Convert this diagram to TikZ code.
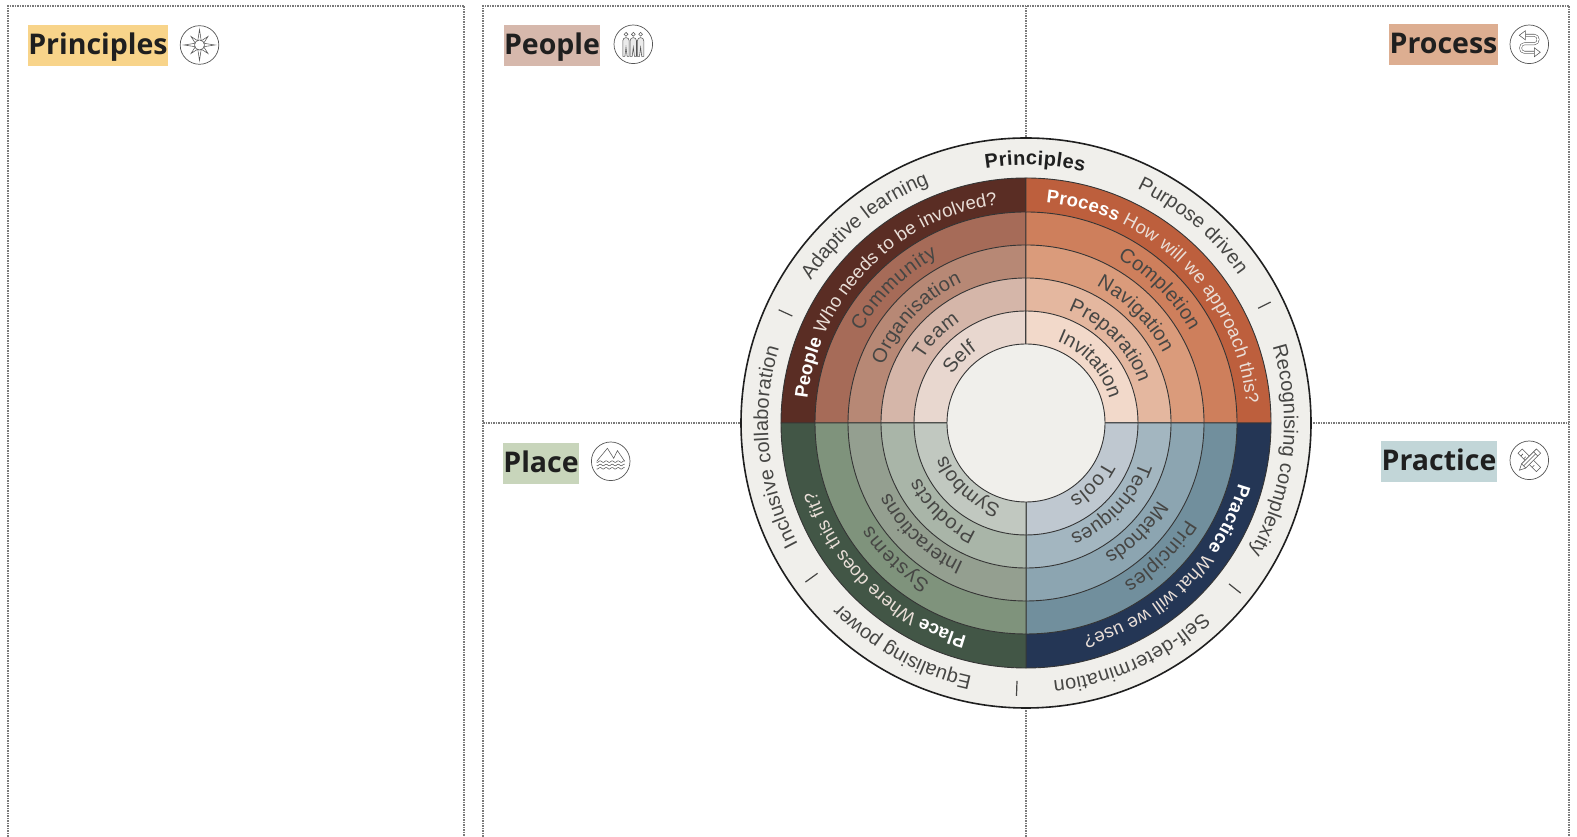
\documentclass[tikz,border=0pt]{standalone}
\usepackage{fontspec}
\usetikzlibrary{decorations.text}
\newfontfamily\headfam{Open Sans}
\newfontfamily\wheelfam{Liberation Sans}
\definecolor{wheelbg}{HTML}{F0EFEB}
\definecolor{wheelink}{HTML}{1F1F1F}
\definecolor{labelink}{HTML}{464644}
\definecolor{paleink}{HTML}{EADFD8}
\definecolor{iconink}{HTML}{555555}
\definecolor{frameink}{HTML}{7A7A7A}
% wheel fonts
\newcommand{\ringfont}{\wheelfam\fontsize{20}{24}\selectfont\color{labelink}}
\newcommand{\titlefont}{\wheelfam\bfseries\fontsize{20}{24}\selectfont\color{wheelink}}
\newcommand{\darkfont}{\wheelfam\fontsize{18.5}{22}\selectfont\color{paleink}}
\newcommand{\darkbold}{\wheelfam\bfseries\fontsize{18.5}{22}\selectfont\color{white}}
\tikzset{
	frameline/.style={frameink, line width=1.3pt, dash pattern=on 1.5pt off 1pt},
	ringcut/.style={draw=wheelink!90, line width=0.9pt},
	tick/.style={labelink, line width=1.2pt},
	ringtext/.style={decorate, decoration={text along path, text align={fit to path}, text={#1}}},
	headbox/.style={inner sep=0pt, text depth=11.5pt, text height=29.5pt, align=center, text=wheelink, font=\headfam\bfseries\fontsize{28.5}{34}\selectfont},
	iconring/.style={circle, draw=iconink, line width=0.7pt, minimum size=38.6pt, inner sep=0pt},
	iconline/.style={draw=iconink, line width=0.55pt}
}
\begin{document}
\begin{tikzpicture}[x=1pt, y=1pt]
	\useasboundingbox (0,0) rectangle (1577,837);
	% panels
	\draw [frameline] (8,0) -- (8,831) -- (464,831) -- (464,0);
	\draw [frameline] (483,0) -- (483,831) -- (1569,831) -- (1569,0);
	\draw [frameline] (1026,0) -- (1026,831);
	\draw [frameline] (483,414) -- (1569,414);
	% headings
	\node [headbox, fill={rgb,255:red,248;green,212;blue,138}, text width=140pt] (principleshead) at (98,791.5) {Principles};
	\node [headbox, fill={rgb,255:red,214;green,184;blue,172}, text width=96pt] (peoplehead) at (552,791.5) {People};
	\node [headbox, fill={rgb,255:red,221;green,174;blue,145}, text width=109pt] (processhead) at (1443.5,792.5) {Process};
	\node [headbox, fill={rgb,255:red,200;green,213;blue,187}, text width=76pt] (placehead) at (541,373.5) {Place};
	\node [headbox, fill={rgb,255:red,194;green,214;blue,216}, text width=116pt] (practicehead) at (1439,375.5) {Practice};
	% icons
	\node [iconring] (principlesicon) at (199.5,792) {};
	\node [iconring] (peopleicon) at (633.3,792.7) {};
	\node [iconring] (processicon) at (1529.3,792.7) {};
	\node [iconring] (placeicon) at (610.7,375.7) {};
	\node [iconring] (practiceicon) at (1529.3,376.7) {};
	\begin{scope}[shift={(principlesicon.center)}]
		\draw [iconline] (90:15.5) -- (67.5:4.5) -- (45:12) -- (22.5:4.5) -- (0:15.5) -- (-22.5:4.5) -- (-45:12) -- (-67.5:4.5) -- (-90:15.5) -- (-112.5:4.5) -- (-135:12) -- (-157.5:4.5) -- (180:15.5) -- (157.5:4.5) -- (135:12) -- (112.5:4.5) -- cycle;
		\draw [iconline, fill=white] (0,0) circle (5);
	\end{scope}
	\begin{scope}[shift={(peopleicon.center)}]
		\draw [iconline] (-7.3,10) circle (1.9);
		\draw [iconline] (0,10) circle (1.9);
		\draw [iconline] (7.3,10) circle (1.9);
		\draw [iconline, fill=iconink!12] (-10.5,-12) -- (-10.5,3.5) arc[start angle=180, end angle=0, radius=3.2] -- (-4.1,-12) -- (-6.2,-12) -- (-7.3,-3) -- (-8.4,-12) -- cycle;
		\draw [iconline, fill=iconink!12] (-3.2,-12) -- (-3.2,3.5) arc[start angle=180, end angle=0, radius=3.2] -- (3.2,-12) -- (1.1,-12) -- (0,-3) -- (-1.1,-12) -- cycle;
		\draw [iconline, fill=iconink!12] (4.1,-12) -- (4.1,3.5) arc[start angle=180, end angle=0, radius=3.2] -- (10.5,-12) -- (8.4,-12) -- (7.3,-3) -- (6.2,-12) -- cycle;
	\end{scope}
	\begin{scope}[shift={(processicon.center)}]
		\draw [iconink, line width=2.6pt, line join=round] (-4,9) -- (5,9) .. controls (10,9) and (10,0.5) .. (5,0.5) -- (-5,0.5) .. controls (-10,0.5) and (-10,-8) .. (-5,-8) -- (5,-8);
		\draw [white, line width=1.5pt, line join=round] (-4,9) -- (5,9) .. controls (10,9) and (10,0.5) .. (5,0.5) -- (-5,0.5) .. controls (-10,0.5) and (-10,-8) .. (-5,-8) -- (5,-8);
		\draw [iconline, fill=white] (-4,13.5) -- (-10,9) -- (-4,4.5) -- cycle;
		\draw [iconline, fill=white] (5,-3.5) -- (11,-8) -- (5,-12.5) -- cycle;
	\end{scope}
	\begin{scope}[shift={(placeicon.center)}]
		\draw [iconline] (-14,0) -- (-3.3,13) -- (3,3) -- (6.7,10.7) -- (14,0);
		\draw [iconline, fill=white] plot[domain=-14:14, samples=40, smooth] (\x,{-0.3+0.8*sin(\x*60)});
		\draw [iconline] plot[domain=-14:14, samples=40, smooth] (\x,{-3.7+0.8*sin(\x*60)});
		\draw [iconline] plot[domain=-14:14, samples=40, smooth] (\x,{-7+0.8*sin(\x*60)});
	\end{scope}
	\begin{scope}[shift={(practiceicon.center)}]
		\draw [iconline, fill=white, rotate=-45] (-13,-3) rectangle (13,3);
		\draw [iconline, rotate=-45] (-9,-3) -- (-9,0);
		\draw [iconline, rotate=-45] (-5,-3) -- (-5,0);
		\draw [iconline, rotate=-45] (-1,-3) -- (-1,0);
		\draw [iconline, rotate=-45] (3,-3) -- (3,0);
		\draw [iconline, rotate=-45] (7,-3) -- (7,0);
		\draw [iconline, fill=white, rotate=45] (13,-3) -- (-8,-3) -- (-14,0) -- (-8,3) -- (13,3) -- cycle;
		\draw [iconline, rotate=45] (-8,-3) -- (-8,3);
		\draw [iconline, rotate=45] (9,-3) -- (9,3);
		\draw [iconline, rotate=45] (-8,0) -- (9,0);
	\end{scope}
	% wheel
	\begin{scope}[shift={(1026,414)}]
		\draw [wheelink, line width=1.6pt, fill=wheelbg] (0,0) circle (285);
		% people quadrant
		\filldraw [ringcut, fill={rgb,255:red,90;green,45;blue,36}] (0,0) -- (180:245) arc[start angle=180, end angle=90, radius=245] -- cycle;
		\filldraw [ringcut, fill={rgb,255:red,166;green,107;blue,88}] (0,0) -- (180:211) arc[start angle=180, end angle=90, radius=211] -- cycle;
		\filldraw [ringcut, fill={rgb,255:red,183;green,136;blue,117}] (0,0) -- (180:178) arc[start angle=180, end angle=90, radius=178] -- cycle;
		\filldraw [ringcut, fill={rgb,255:red,213;green,182;blue,169}] (0,0) -- (180:145) arc[start angle=180, end angle=90, radius=145] -- cycle;
		\filldraw [ringcut, fill={rgb,255:red,232;green,215;blue,207}] (0,0) -- (180:112) arc[start angle=180, end angle=90, radius=112] -- cycle;
		% process quadrant
		\filldraw [ringcut, fill={rgb,255:red,189;green,95;blue,61}] (0,0) -- (90:245) arc[start angle=90, end angle=0, radius=245] -- cycle;
		\filldraw [ringcut, fill={rgb,255:red,206;green,127;blue,92}] (0,0) -- (90:211) arc[start angle=90, end angle=0, radius=211] -- cycle;
		\filldraw [ringcut, fill={rgb,255:red,218;green,155;blue,123}] (0,0) -- (90:178) arc[start angle=90, end angle=0, radius=178] -- cycle;
		\filldraw [ringcut, fill={rgb,255:red,228;green,183;blue,159}] (0,0) -- (90:145) arc[start angle=90, end angle=0, radius=145] -- cycle;
		\filldraw [ringcut, fill={rgb,255:red,242;green,217;blue,202}] (0,0) -- (90:112) arc[start angle=90, end angle=0, radius=112] -- cycle;
		% practice quadrant
		\filldraw [ringcut, fill={rgb,255:red,36;green,54;blue,85}] (0,0) -- (0:245) arc[start angle=0, end angle=-90, radius=245] -- cycle;
		\filldraw [ringcut, fill={rgb,255:red,113;green,143;blue,157}] (0,0) -- (0:211) arc[start angle=0, end angle=-90, radius=211] -- cycle;
		\filldraw [ringcut, fill={rgb,255:red,140;green,165;blue,177}] (0,0) -- (0:178) arc[start angle=0, end angle=-90, radius=178] -- cycle;
		\filldraw [ringcut, fill={rgb,255:red,163;green,182;blue,192}] (0,0) -- (0:145) arc[start angle=0, end angle=-90, radius=145] -- cycle;
		\filldraw [ringcut, fill={rgb,255:red,191;green,200;blue,208}] (0,0) -- (0:112) arc[start angle=0, end angle=-90, radius=112] -- cycle;
		% place quadrant
		\filldraw [ringcut, fill={rgb,255:red,66;green,86;blue,70}] (0,0) -- (-90:245) arc[start angle=-90, end angle=-180, radius=245] -- cycle;
		\filldraw [ringcut, fill={rgb,255:red,127;green,147;blue,124}] (0,0) -- (-90:211) arc[start angle=-90, end angle=-180, radius=211] -- cycle;
		\filldraw [ringcut, fill={rgb,255:red,148;green,159;blue,144}] (0,0) -- (-90:178) arc[start angle=-90, end angle=-180, radius=178] -- cycle;
		\filldraw [ringcut, fill={rgb,255:red,169;green,181;blue,168}] (0,0) -- (-90:145) arc[start angle=-90, end angle=-180, radius=145] -- cycle;
		\filldraw [ringcut, fill={rgb,255:red,193;green,200;blue,192}] (0,0) -- (-90:112) arc[start angle=-90, end angle=-180, radius=112] -- cycle;
		\filldraw [ringcut, fill=wheelbg] (0,0) circle (79);
		% ticks
		\draw [tick] (155.4:257) -- (155.4:272);
		\draw [tick] (26.3:259) -- (26.3:273);
		\draw [tick] (-38.4:259) -- (-38.4:274);
		\draw [tick] (-92:258) -- (-92:273);
		\draw [tick] (-144.2:257) -- (-144.2:272);
		% outer labels
		\path [ringtext={|\titlefont|Principles}] (99:258) arc[start angle=99, end angle=77, radius=258];
		\path [ringtext={|\ringfont|Purpose driven}] (64.6:259) arc[start angle=64.6, end angle=35.3, radius=259];
		\path [ringtext={|\ringfont|Recognising complexity}] (17.2:258) arc[start angle=17.2, end angle=-30, radius=258];
		\path [ringtext={|\ringfont|Self-determination}] (-47:259) arc[start angle=-47, end angle=-84, radius=259];
		\path [ringtext={|\ringfont|Equalising power}] (-102:259) arc[start angle=-102, end angle=-135, radius=259];
		\path [ringtext={|\ringfont|Inclusive collaboration}] (-152:258) arc[start angle=-152, end angle=-197, radius=258];
		\path [ringtext={|\ringfont|Adaptive learning}] (146.5:258) arc[start angle=146.5, end angle=112, radius=258];
		% question labels
		\path [ringtext={|\darkbold|People |\darkfont|Who needs to be involved?}] (173.7:220) arc[start angle=173.7, end angle=97.5, radius=220];
		\path [ringtext={|\darkbold|Process |\darkfont|How will we approach this?}] (84.8:221) arc[start angle=84.8, end angle=5, radius=221];
		\path [ringtext={|\darkbold|Practice |\darkfont|What will we use?}] (-15.8:221) arc[start angle=-15.8, end angle=-75, radius=221];
		\path [ringtext={|\darkbold|Place |\darkfont|Where does this fit?}] (-105.5:221) arc[start angle=-105.5, end angle=-162, radius=221];
		% people rings
		\path [ringtext={|\ringfont|Community}] (151:188) arc[start angle=151, end angle=118, radius=188];
		\path [ringtext={|\ringfont|Organisation}] (158:154) arc[start angle=158, end angle=114.5, radius=154];
		\path [ringtext={|\ringfont|Team}] (148.5:121) arc[start angle=148.5, end angle=123, radius=121];
		\path [ringtext={|\ringfont|Self}] (147:88) arc[start angle=147, end angle=124, radius=88];
		% process rings
		\path [ringtext={|\ringfont|Completion}] (60.9:188) arc[start angle=60.9, end angle=29.2, radius=188];
		\path [ringtext={|\ringfont|Navigation}] (62.8:154) arc[start angle=62.8, end angle=27, radius=154];
		\path [ringtext={|\ringfont|Preparation}] (69.3:120) arc[start angle=69.3, end angle=19.3, radius=120];
		\path [ringtext={|\ringfont|Invitation}] (69:87) arc[start angle=69, end angle=19, radius=87];
		% practice rings
		\path [ringtext={|\ringfont|Principles}] (-31:187) arc[start angle=-31, end angle=-58.5, radius=187];
		\path [ringtext={|\ringfont|Methods}] (-30.4:153) arc[start angle=-30.4, end angle=-58.5, radius=153];
		\path [ringtext={|\ringfont|Techniques}] (-19:120) arc[start angle=-19, end angle=-67, radius=120];
		\path [ringtext={|\ringfont|Tools}] (-26.5:87) arc[start angle=-26.5, end angle=-60, radius=87];
		% place rings
		\path [ringtext={|\ringfont|Systems}] (-121:186) arc[start angle=-121, end angle=-146.5, radius=186];
		\path [ringtext={|\ringfont|Interactions}] (-114:153) arc[start angle=-114, end angle=-153, radius=153];
		\path [ringtext={|\ringfont|Products}] (-114.4:120) arc[start angle=-114.4, end angle=-152.6, radius=120];
		\path [ringtext={|\ringfont|Symbols}] (-107:86) arc[start angle=-107, end angle=-158, radius=86];
	\end{scope}
\end{tikzpicture}
\end{document}
